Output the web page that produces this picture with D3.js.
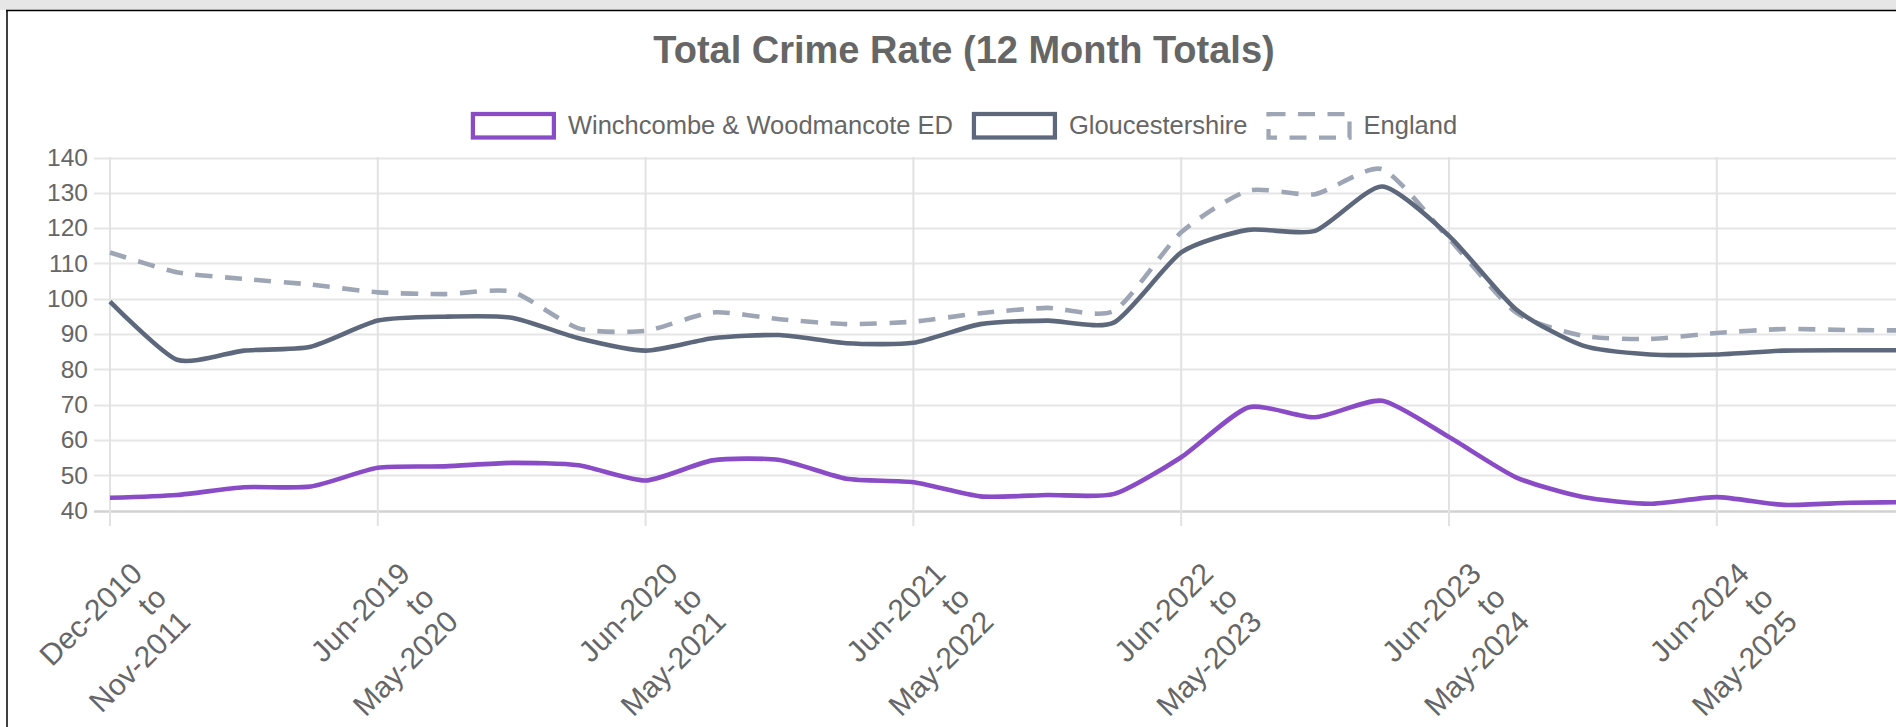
<!DOCTYPE html>
<html>
<head>
<meta charset="utf-8">
<script src="https://cdn.jsdelivr.net/npm/d3@7"></script>
<style>
body { margin: 0; overflow: hidden; background: #fff; }
svg { display: block; font-family: Arial, "Liberation Sans", Helvetica, sans-serif; }
</style>
</head>
<body>
<svg id="chart" width="1896" height="727"></svg>
<script>
// 12 month periods (start / end of each rolling window)
var periodStarts = ["Dec-2010", "Sep-2018", "Dec-2018", "Mar-2019", "Jun-2019", "Sep-2019", "Dec-2019",
  "Mar-2020", "Jun-2020", "Sep-2020", "Dec-2020", "Mar-2021", "Jun-2021", "Sep-2021", "Dec-2021",
  "Mar-2022", "Jun-2022", "Sep-2022", "Dec-2022", "Mar-2023", "Jun-2023", "Sep-2023", "Dec-2023",
  "Mar-2024", "Jun-2024", "Sep-2024", "Dec-2024", "Mar-2025"];
var periodEnds = ["Nov-2011", "Aug-2019", "Nov-2019", "Feb-2020", "May-2020", "Aug-2020", "Nov-2020",
  "Feb-2021", "May-2021", "Aug-2021", "Nov-2021", "Feb-2022", "May-2022", "Aug-2022", "Nov-2022",
  "Feb-2023", "May-2023", "Aug-2023", "Nov-2023", "Feb-2024", "May-2024", "Aug-2024", "Nov-2024",
  "Feb-2025", "May-2025", "Aug-2025", "Nov-2025", "Feb-2026"];

var winchcombe = [43.6, 44.4, 46.6, 46.8, 52.1, 52.5, 53.5, 52.8, 48.5, 54.2, 54.3, 49.0, 48.0, 44.0,
  44.4, 44.7, 55.1, 69.2, 66.4, 71.1, 60.8, 49.4, 43.8, 41.9, 43.8, 41.6, 42.2, 42.4];
var gloucestershire = [99.2, 82.7, 85.3, 86.4, 93.8, 94.9, 94.6, 88.8, 85.3, 88.8, 89.7, 87.4, 87.5, 92.8,
  93.8, 93.3, 113.1, 119.5, 119.2, 131.8, 117.8, 97.0, 86.7, 84.2, 84.2, 85.3, 85.4, 85.4];
var england = [113.1, 107.5, 105.6, 104.0, 101.8, 101.3, 102.0, 91.6, 90.9, 96.1, 94.2, 92.8, 93.5, 95.9,
  97.4, 96.6, 118.8, 130.6, 129.6, 136.7, 117.0, 96.1, 89.5, 88.6, 90.3, 91.4, 91.1, 91.0];

var yTicks = [40, 50, 60, 70, 80, 90, 100, 110, 120, 130, 140];
var seriesNames = ["Winchcombe & Woodmancote ED", "Gloucestershire", "England"];

var svg = d3.select("#chart");
var idx = d3.range(periodStarts.length);

// frame of the page
svg.append("rect").attr("x", 0).attr("y", 0).attr("width", 1896).attr("height", 10).attr("fill", "#e6e6e6");
svg.append("line").attr("x1", 6).attr("x2", 1896).attr("y1", 10.5).attr("y2", 10.5)
  .attr("stroke", "#000").attr("stroke-width", 1.5);
svg.append("line").attr("x1", 7).attr("x2", 7).attr("y1", 10).attr("y2", 727)
  .attr("stroke", "#000").attr("stroke-width", 1.5);

var x = d3.scalePoint().domain(idx).range([110, 110 + 27 * 66.95]);
var y = d3.scaleLinear().domain([40, 140]).range([510.5, 157.5]);

// title
svg.append("text")
  .attr("x", 964).attr("y", 63)
  .attr("text-anchor", "middle")
  .attr("font-size", 38).attr("font-weight", "bold").attr("fill", "#666")
  .text("Total Crime Rate (12 Month Totals)");

// horizontal grid
svg.append("g").selectAll("line").data(yTicks).join("line")
  .attr("x1", 94).attr("x2", 1896)
  .attr("y1", function(d) { return Math.round(y(d)) + 0.5; })
  .attr("y2", function(d) { return Math.round(y(d)) + 0.5; })
  .attr("stroke", function(d) { return d === 40 ? "#d2d2d2" : "#e6e6e6"; })
  .attr("stroke-width", function(d) { return d === 40 ? 2.5 : 2; });

// vertical grid at the shown labels
var shown = idx.filter(function(i) { return i % 4 === 0; });
svg.append("g").selectAll("line").data(shown).join("line")
  .attr("x1", function(d) { return x(d); }).attr("x2", function(d) { return x(d); })
  .attr("y1", 157).attr("y2", 526)
  .attr("stroke", "#e2e2e2").attr("stroke-width", 2);

// y axis labels
var yAxis = svg.append("g").attr("transform", "translate(110,0)")
  .call(d3.axisLeft(y).tickValues(yTicks).tickSize(0).tickPadding(22));
yAxis.select(".domain").remove();
yAxis.selectAll("text").attr("font-size", 24.5).attr("fill", "#666").attr("font-family", null);

// x axis labels, three lines, rotated
var xAxis = svg.append("g").attr("transform", "translate(0,511)")
  .call(d3.axisBottom(x).tickValues(shown).tickSize(0).tickFormat(""));
xAxis.select(".domain").remove();
xAxis.selectAll(".tick").each(function(d) {
  var g = d3.select(this).append("g").attr("transform", "translate(26,57) rotate(-45)");
  [periodStarts[d], "to", periodEnds[d]].forEach(function(t, k) {
    g.append("text").attr("x", 0).attr("y", k * 34)
      .attr("text-anchor", "end").attr("dy", "0.35em")
      .attr("font-size", 30).attr("fill", "#666")
      .text(t);
  });
});

// lines
var colors = ["#8a4bc6", "#5e687c", "#9ea6b5"];
var dashes = [null, null, "17,12.5"];
var data = [winchcombe, gloucestershire, england];
var line = d3.line()
  .x(function(d, i) { return x(i); })
  .y(function(d) { return y(d); })
  .curve(d3.curveCardinal.tension(0.35));

[2, 1, 0].forEach(function(s) {
  svg.append("path")
    .datum(data[s])
    .attr("d", line)
    .attr("fill", "none")
    .attr("stroke", colors[s])
    .attr("stroke-width", 4.6)
    .attr("stroke-dasharray", dashes[s])
    .attr("stroke-linejoin", "round");
});

// legend
var legend = svg.append("g");
var items = legend.selectAll("g").data(seriesNames).join("g");
items.append("rect")
  .attr("x", 0).attr("y", 114).attr("width", 81).attr("height", 23.5)
  .attr("fill", "#fff")
  .attr("stroke", function(d, i) { return colors[i]; })
  .attr("stroke-width", 4.25)
  .attr("stroke-dasharray", function(d, i) { return dashes[i]; });
items.append("text")
  .attr("x", 95).attr("y", 133.5)
  .attr("font-size", 25.5).attr("fill", "#666")
  .text(function(d) { return d; });

var widths = [];
items.each(function() { widths.push(95 + d3.select(this).select("text").node().getComputedTextLength()); });
var total = d3.sum(widths) + 21 * (widths.length - 1);
var pos = 964 - total / 2 + 1;
items.attr("transform", function(d, i) {
  var p = pos;
  pos += widths[i] + 21;
  return "translate(" + p + ",0)";
});
</script>
</body>
</html>
